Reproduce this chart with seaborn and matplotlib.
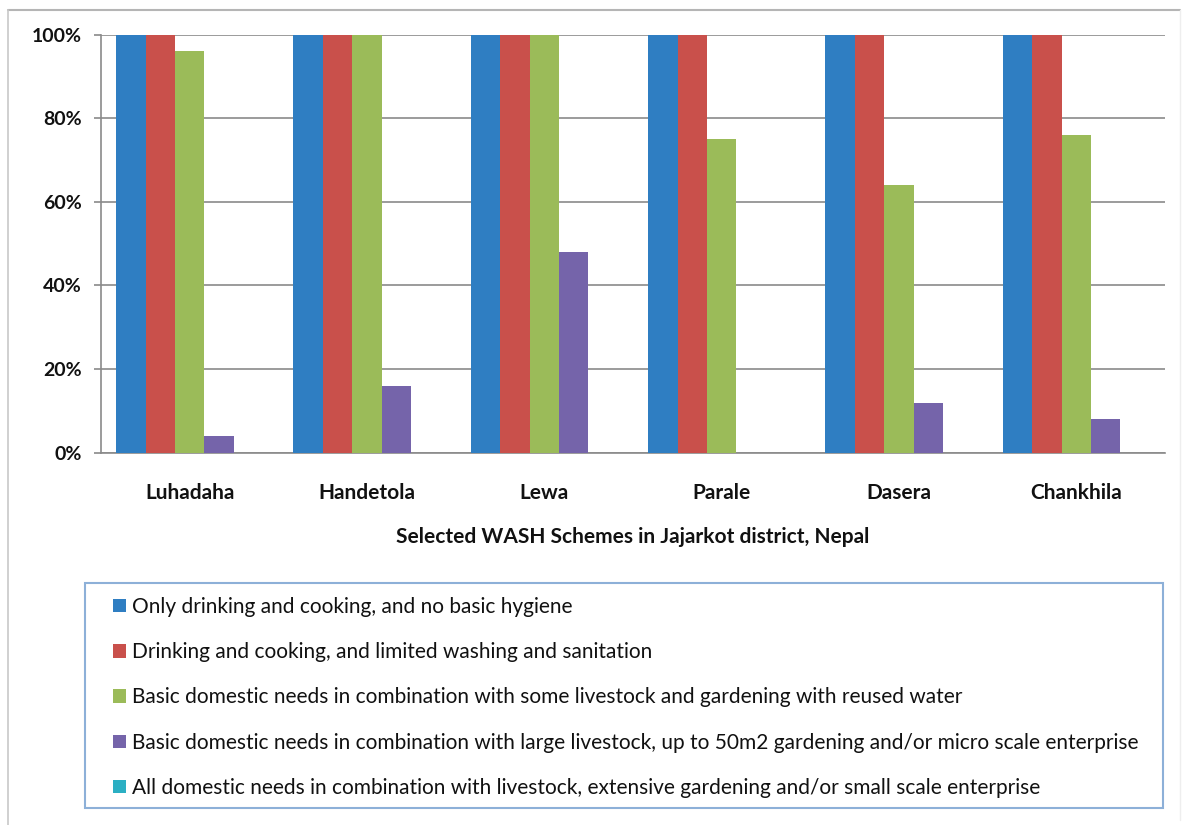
import matplotlib
matplotlib.use("Agg")
import matplotlib.pyplot as plt
from matplotlib.lines import Line2D
from matplotlib.patches import Rectangle
from matplotlib.ticker import PercentFormatter
import seaborn as sns
import pandas as pd

# ---- data ----
schemes = ["Luhadaha", "Handetola", "Lewa", "Parale", "Dasera", "Chankhila"]
series_names = [
    "Only drinking and cooking, and no basic hygiene",
    "Drinking and cooking, and limited washing and sanitation",
    "Basic domestic needs in combination with some livestock and gardening with reused water",
    "Basic domestic needs in combination with large livestock, up to 50m2 gardening and/or micro scale enterprise",
    "All domestic needs in combination with livestock, extensive gardening and/or small scale enterprise",
]
only_drinking = [1.00, 1.00, 1.00, 1.00, 1.00, 1.00]
limited_washing = [1.00, 1.00, 1.00, 1.00, 1.00, 1.00]
some_livestock = [0.96, 1.00, 1.00, 0.75, 0.64, 0.76]
large_livestock = [0.04, 0.16, 0.48, 0.00, 0.12, 0.08]
all_needs = [0.00, 0.00, 0.00, 0.00, 0.00, 0.00]
colors = ["#2F7EC2", "#C9504B", "#9BBB59", "#7564AA", "#2BAFC3"]

series_values = [only_drinking, limited_washing, some_livestock, large_livestock, all_needs]
rows = []
for name, vals in zip(series_names, series_values):
    for s, v in zip(schemes, vals):
        rows.append({"Scheme": s, "Series": name, "Value": v})
df = pd.DataFrame(rows)

sns.set_theme(style="white")
plt.rcParams["font.family"] = ["Lato", "DejaVu Sans"]

W, H = 1183, 825
fig = plt.figure(figsize=(W / 100, H / 100), dpi=100)
ax = fig.add_axes([101 / W, 1 - 452.7 / H, (1165 - 101) / W, (452.7 - 34.7) / H])

sns.barplot(data=df, x="Scheme", y="Value", hue="Series", order=schemes,
            hue_order=series_names, palette=colors, width=0.829, gap=0,
            linewidth=0, saturation=1, ax=ax, legend=False, zorder=3)

ax.set_ylim(0, 1)
ax.set_xlim(-0.5, len(schemes) - 0.5)
ax.set_yticks([0, 0.2, 0.4, 0.6, 0.8, 1.0])
ax.yaxis.set_major_formatter(PercentFormatter(1.0, decimals=0))
ax.grid(axis="y", color="#8A8A8A", linewidth=1.2, zorder=0)
ax.set_axisbelow(True)
for s in ["top", "right"]:
    ax.spines[s].set_visible(False)
for s in ["left", "bottom"]:
    ax.spines[s].set_color("#8A8A8A")
    ax.spines[s].set_linewidth(1.2)
ax.tick_params(axis="y", which="major", left=True, length=5, width=1.2,
               color="#8A8A8A", pad=9, labelsize=14, labelcolor="#111111")
ax.tick_params(axis="x", bottom=False, pad=16, labelsize=15, labelcolor="#111111")
for lab in ax.get_yticklabels() + ax.get_xticklabels():
    lab.set_fontweight("bold")
ax.set_xlabel("Selected WASH Schemes in Jajarkot district, Nepal",
              fontsize=15, fontweight="bold", color="#111111", labelpad=17)
ax.set_ylabel("")

# outer chart frame
fig.add_artist(Line2D([8 / W, 1180 / W], [1 - 10 / H, 1 - 10 / H],
                      transform=fig.transFigure, color="#B5B5B5", linewidth=1.5))
fig.add_artist(Line2D([8 / W, 8 / W], [1 - 10 / H, 0], transform=fig.transFigure,
                      color="#C8C8C8", linewidth=1.2))
fig.add_artist(Line2D([1180 / W, 1180 / W], [1 - 10 / H, 1 - 820 / H],
                      transform=fig.transFigure, color="#EEEEEE", linewidth=1.0))

# legend box
fig.add_artist(Rectangle((85 / W, 1 - 808 / H), (1163 - 85) / W, (808 - 583) / H,
                         transform=fig.transFigure, facecolor="white",
                         edgecolor="#8DB0D8", linewidth=1.5, zorder=0))
handles = [Rectangle((0, 0), 1, 1, facecolor=c, edgecolor="none") for c in colors]
leg = fig.legend(handles, series_names, loc="upper left",
                 bbox_to_anchor=(113 / W, 1 - 597 / H), frameon=False,
                 fontsize=15, handlelength=0.62, handleheight=0.62,
                 handletextpad=0.27, labelspacing=1.21, borderpad=0,
                 borderaxespad=0)
for t in leg.get_texts():
    t.set_color("#111111")

fig.savefig("out.png", dpi=100, facecolor="white")
